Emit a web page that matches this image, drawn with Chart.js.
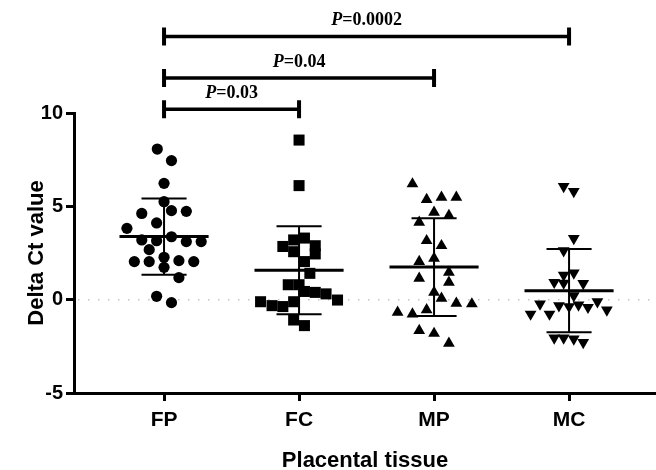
<!DOCTYPE html>
<html>
<head>
<meta charset="utf-8">
<script src="https://cdn.jsdelivr.net/npm/chart.js@4/dist/chart.umd.min.js"></script>
<style>
  html, body { margin: 0; padding: 0; background: #fff; }
  #wrap { width: 656px; height: 470px; }
</style>
</head>
<body>
<div id="wrap"><canvas id="myChart"></canvas></div>
<script>
// groups on the x axis
const groups = ["FP", "FC", "MP", "MC"];
const yTicks = [-5, 0, 5, 10];

// delta Ct values per group
const fpValues = [8.07, 7.45, 6.23, 5.25, 4.62, 4.77, 4.73, 4.11, 3.82, 3.20, 3.16, 3.37,
  3.11, 3.11, 2.68, 2.04, 2.04, 2.27, 2.09, 2.04, 1.73, 1.18, 0.18, -0.16];
const fcValues = [8.55, 6.11, 2.85, 3.20, 3.30, 2.89, 2.57, 2.45, 2.04, 1.41, 0.80, 0.80,
  0.44, 0.39, 0.31, -0.02, -0.11, -0.32, -0.37, -0.11, -1.09, -1.39];
const mpValues = [6.20, 5.36, 5.48, 5.48, 4.68, 4.50, 4.14, 3.16, 2.89, 2.04, 2.21, 1.46,
  1.14, 0.93, 0.39, 0.07, -0.20, -0.23, -0.68, -0.77, -0.54, -1.66, -1.81, -2.34];
const mcValues = [6.07, 5.80, 3.28, 2.62, 1.32, 1.43, 0.93, 0.89, 0.87, 0.21, -0.23, -0.77,
  -0.77, -0.32, -0.37, -0.28, -0.41, -0.11, -0.55, -2.05, -2.05, -2.10, -2.29];

// horizontal scatter of each point around its group (in group units)
const fpJitter = [-0.05, 0.055, 0, 0, -0.165, 0.055, 0.165, -0.055, -0.275, -0.165, -0.055, 0.055,
  0.165, 0.275, -0.11, -0.22, -0.11, 0, 0.11, 0.22, 0, 0.11, -0.055, 0.055];
const fcJitter = [0, 0, -0.12, -0.04, 0.04, 0.12, -0.04, 0.12, 0.04, 0.08, -0.08, 0,
  0.04, 0.12, 0.2, 0.285, -0.285, -0.2, -0.12, -0.04, -0.04, 0.04];
const mpJitter = [-0.16, -0.055, 0.055, 0.165, 0, 0.11, -0.11, -0.055, 0.055, -0.11, 0, 0.11,
  -0.11, 0.11, 0, 0.055, 0.165, 0.28, -0.27, -0.16, -0.055, -0.11, 0, 0.11];
const mcJitter = [-0.04, 0.035, 0.035, -0.04, -0.04, 0.035, -0.11, -0.04, 0.105, 0.035, -0.215, -0.285,
  -0.145, -0.075, 0, 0.07, 0.14, 0.21, 0.28, -0.11, -0.04, 0.035, 0.105];

// significance brackets
const bracketFrom = [0, 0, 0];
const bracketTo = [1, 2, 3];
const bracketLevel = [10.2, 11.88, 14.1];
const bracketP = ["0.03", "0.04", "0.0002"];

const groupValues = [fpValues, fcValues, mpValues, mcValues];
const groupJitter = [fpJitter, fcJitter, mpJitter, mcJitter];
const shapes = ["circle", "rect", "triangle", "triangle"];
const rotations = [0, 0, 0, 180];
const radii = [5.6, 7.8, 6.8, 6.8];

const SANS = "'Liberation Sans', Arial, sans-serif";
const SERIF = "'Liberation Serif', 'Times New Roman', serif";

function mean(a) {
  return a.reduce((s, v) => s + v, 0) / a.length;
}
function sd(a) {
  const m = mean(a);
  return Math.sqrt(a.reduce((s, v) => s + (v - m) * (v - m), 0) / (a.length - 1));
}

const pointSets = groupValues.map((vals, i) => ({
  label: groups[i],
  data: vals.map((v, k) => ({ x: i + groupJitter[i][k], y: v })),
  pointStyle: shapes[i],
  rotation: rotations[i],
  pointRadius: radii[i],
  backgroundColor: "#000",
  borderColor: "#000",
  borderWidth: 0,
  order: 2,
}));

const meanPts = [];
const sdPts = [];
groupValues.forEach((vals, i) => {
  const m = mean(vals), s = sd(vals);
  meanPts.push({ x: i - 0.33, y: m }, { x: i + 0.33, y: m }, { x: i, y: null });
  sdPts.push(
    { x: i, y: m - s }, { x: i, y: m + s }, { x: i, y: null },
    { x: i - 0.167, y: m + s }, { x: i + 0.167, y: m + s }, { x: i, y: null },
    { x: i - 0.167, y: m - s }, { x: i + 0.167, y: m - s }, { x: i, y: null }
  );
});

const extras = {
  id: "extras",
  beforeDatasetsDraw(chart) {
    const { ctx, chartArea, scales: { y } } = chart;
    const y0 = y.getPixelForValue(0);
    ctx.save();
    ctx.strokeStyle = "#c4c4c4";
    ctx.lineWidth = 1.5;
    ctx.setLineDash([1.5, 8.5]);
    ctx.beginPath();
    ctx.moveTo(chartArea.left + 4, y0);
    ctx.lineTo(chartArea.right, y0);
    ctx.stroke();
    ctx.restore();
  },
  afterDraw(chart) {
    const { ctx, scales: { x, y } } = chart;
    ctx.save();
    ctx.strokeStyle = "#000";
    ctx.fillStyle = "#000";
    bracketFrom.forEach((from, k) => {
      const x1 = x.getPixelForValue(from);
      const x2 = x.getPixelForValue(bracketTo[k]);
      const yy = y.getPixelForValue(bracketLevel[k]);
      ctx.lineWidth = 3.5;
      ctx.beginPath();
      ctx.moveTo(x1, yy);
      ctx.lineTo(x2, yy);
      ctx.stroke();
      ctx.lineWidth = 4;
      ctx.beginPath();
      ctx.moveTo(x1, yy - 9);
      ctx.lineTo(x1, yy + 9);
      ctx.moveTo(x2, yy - 9);
      ctx.lineTo(x2, yy + 9);
      ctx.stroke();

      const rest = "=" + bracketP[k];
      ctx.font = "italic bold 18px " + SERIF;
      const wP = ctx.measureText("P").width;
      ctx.font = "bold 18px " + SERIF;
      const wR = ctx.measureText(rest).width;
      const start = (x1 + x2) / 2 - (wP + wR) / 2;
      ctx.textBaseline = "alphabetic";
      ctx.textAlign = "left";
      ctx.font = "italic bold 18px " + SERIF;
      ctx.fillText("P", start, yy - 11);
      ctx.font = "bold 18px " + SERIF;
      ctx.fillText(rest, start + wP, yy - 11);
    });
    ctx.restore();
  },
};

const ctx = document.getElementById("myChart").getContext("2d");

new Chart(ctx, {
  type: "scatter",
  data: {
    datasets: [
      {
        label: "mean",
        data: meanPts,
        showLine: true,
        spanGaps: false,
        borderColor: "#000",
        borderWidth: 3,
        pointRadius: 0,
        order: 0,
      },
      {
        label: "sd",
        data: sdPts,
        showLine: true,
        spanGaps: false,
        borderColor: "#000",
        borderWidth: 2,
        pointRadius: 0,
        order: 1,
      },
      ...pointSets,
    ],
  },
  options: {
    responsive: true,
    maintainAspectRatio: false,
    animation: false,
    events: [],
    layout: { autoPadding: false, padding: { top: 113, left: 0, right: 0, bottom: 0 } },
    plugins: {
      legend: { display: false },
      tooltip: { enabled: false },
    },
    scales: {
      x: {
        type: "linear",
        min: -0.667,
        max: 3.644,
        afterBuildTicks: (s) => {
          s.ticks = groups.map((g, i) => ({ value: i }));
        },
        afterFit: (s) => {
          s.height = 77;
        },
        ticks: {
          callback: (v) => groups[v],
          color: "#000",
          padding: 7,
          font: { family: SANS, size: 21, weight: "bold" },
        },
        grid: { drawOnChartArea: false, tickLength: 8, tickWidth: 3, tickColor: "#000" },
        border: { color: "#000", width: 3 },
        title: {
          display: true,
          text: "Placental tissue",
          color: "#000",
          padding: { top: 0, bottom: -2 },
          font: { family: SANS, size: 22, weight: "bold", lineHeight: 1 },
        },
      },
      y: {
        min: -5,
        max: 10,
        afterBuildTicks: (s) => {
          s.ticks = yTicks.map((v) => ({ value: v }));
        },
        afterFit: (s) => {
          s.width = 74;
        },
        ticks: {
          color: "#000",
          padding: 3,
          font: { family: SANS, size: 20, weight: "bold" },
        },
        grid: { drawOnChartArea: false, tickLength: 8, tickWidth: 3, tickColor: "#000" },
        border: { color: "#000", width: 3 },
        title: {
          display: true,
          text: "Delta Ct value",
          color: "#000",
          padding: { top: 24, bottom: 0 },
          font: { family: SANS, size: 22, weight: "bold" },
        },
      },
    },
  },
  plugins: [extras],
});
</script>
</body>
</html>
